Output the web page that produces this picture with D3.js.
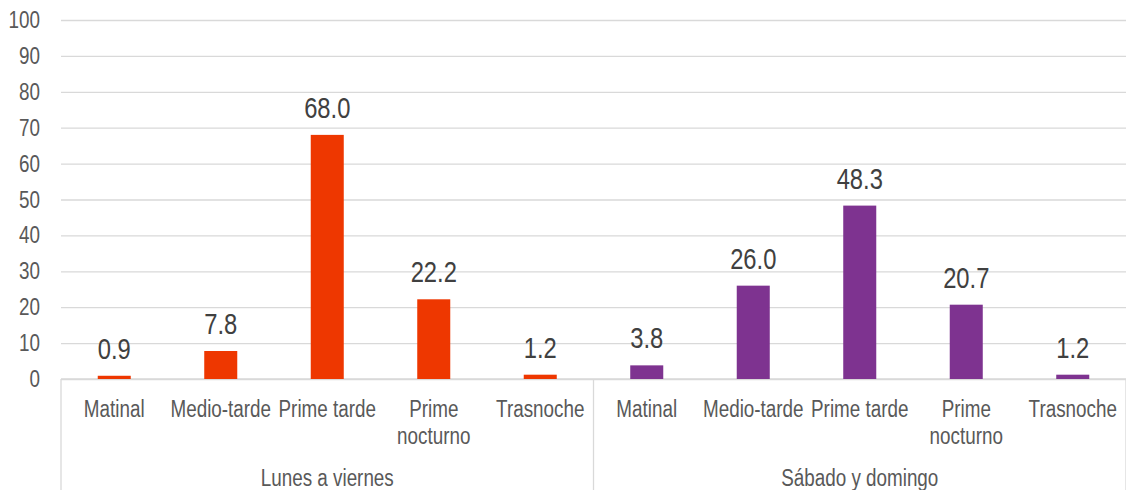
<!DOCTYPE html>
<html>
<head>
<meta charset="utf-8">
<script src="https://cdn.jsdelivr.net/npm/d3@7"></script>
<style>
  body { margin: 0; background: #fff; }
  text { font-family: "Liberation Sans Narrow", "Arial Narrow", "Liberation Sans", Arial, sans-serif; }
</style>
</head>
<body>
<div id="chart-area"></div>
<script>
var groups = ["Lunes a viernes", "Sábado y domingo"];
var categories = ["Matinal", "Medio-tarde", "Prime tarde", "Prime nocturno", "Trasnoche"];
var weekdayValues = [0.9, 7.8, 68.0, 22.2, 1.2];
var weekendValues = [3.8, 26.0, 48.3, 20.7, 1.2];
var yTicks = [0, 10, 20, 30, 40, 50, 60, 70, 80, 90, 100];
var colors = ["#EE3700", "#7E3390"];

var width = 1126, height = 490;
var margin = { top: 20, right: 0, bottom: 111, left: 61 };
var squeeze = 0.82; // narrow font look

var data = [];
groups.forEach((grp, gi) => {
    var vals = gi === 0 ? weekdayValues : weekendValues;
    categories.forEach((c, ci) => {
        data.push({ key: gi + "-" + ci, group: grp, gi: gi, cat: c, value: vals[ci] });
    });
});

var svg = d3.select('#chart-area')
    .append("svg")
        .attr("width", width)
        .attr("height", height);

var x = d3.scaleBand()
    .domain(data.map(d => d.key))
    .range([margin.left, width - margin.right])
    .paddingInner(0.69)
    .paddingOuter(0.345);

var y = d3.scaleLinear()
    .domain([0, 100])
    .range([height - margin.bottom, margin.top]);

function narrow(px, py) {
    return "translate(" + px + "," + py + ") scale(" + squeeze + ",1)";
}

// gridlines
var yAxisCall = d3.axisLeft(y)
    .tickValues(yTicks)
    .tickSize(-(width - margin.left - margin.right))
    .tickFormat("");

var yAxis = svg.append("g")
    .attr("class", "y-axis")
    .attr("transform", "translate(" + margin.left + ",0)")
    .call(yAxisCall);
yAxis.select(".domain").remove();
yAxis.selectAll("line").attr("stroke", "#d9d9d9").attr("stroke-width", 1.3);

// y tick labels
svg.selectAll("text.ytick")
    .data(yTicks)
    .enter().append("text")
        .attr("class", "ytick")
        .attr("transform", d => narrow(40, y(d) + 8))
        .attr("text-anchor", "end")
        .attr("fill", "#595959")
        .style("font-size", "23px")
        .text(d => d);

// baseline
svg.append("line")
    .attr("x1", margin.left).attr("x2", width - margin.right)
    .attr("y1", y(0)).attr("y2", y(0))
    .attr("stroke", "#d9d9d9").attr("stroke-width", 1.3);

// group separators
var seps = [0, 5, 10].map(i => margin.left + i * (width - margin.left - margin.right) / 10);
svg.selectAll(".sep")
    .data(seps)
    .enter().append("line")
        .attr("class", "sep")
        .attr("x1", d => d).attr("x2", d => d)
        .attr("y1", y(0)).attr("y2", height)
        .attr("stroke", "#d9d9d9").attr("stroke-width", 1.3);

// bars
svg.selectAll("rect.bar")
    .data(data)
    .enter().append("rect")
        .attr("class", "bar")
        .attr("x", d => x(d.key))
        .attr("width", x.bandwidth())
        .attr("y", d => y(d.value))
        .attr("height", d => y(0) - y(d.value))
        .attr("fill", d => colors[d.gi]);

// value labels
svg.selectAll("text.val")
    .data(data)
    .enter().append("text")
        .attr("class", "val")
        .attr("transform", d => narrow(x(d.key) + x.bandwidth() / 2, y(d.value) - 17))
        .attr("text-anchor", "middle")
        .attr("fill", "#404040")
        .style("font-size", "29px")
        .text(d => d.value.toFixed(1));

// category labels
var catLabels = svg.selectAll("text.cat")
    .data(data)
    .enter().append("text")
        .attr("class", "cat")
        .attr("transform", d => narrow(x(d.key) + x.bandwidth() / 2, y(0) + 38))
        .attr("text-anchor", "middle")
        .attr("fill", "#595959")
        .style("font-size", "23px");

catLabels.each(function(d) {
    var lines = d.cat === "Prime nocturno" ? ["Prime", "nocturno"] : [d.cat];
    d3.select(this).selectAll("tspan")
        .data(lines)
        .enter().append("tspan")
            .attr("x", 0)
            .attr("y", (l, i) => i * 27)
            .text(l => l);
});

// group labels
svg.selectAll("text.grp")
    .data(groups)
    .enter().append("text")
        .attr("class", "grp")
        .attr("transform", (g, i) => narrow((seps[i] + seps[i + 1]) / 2, height - 4))
        .attr("text-anchor", "middle")
        .attr("fill", "#595959")
        .style("font-size", "23px")
        .text(g => g);
</script>
</body>
</html>
